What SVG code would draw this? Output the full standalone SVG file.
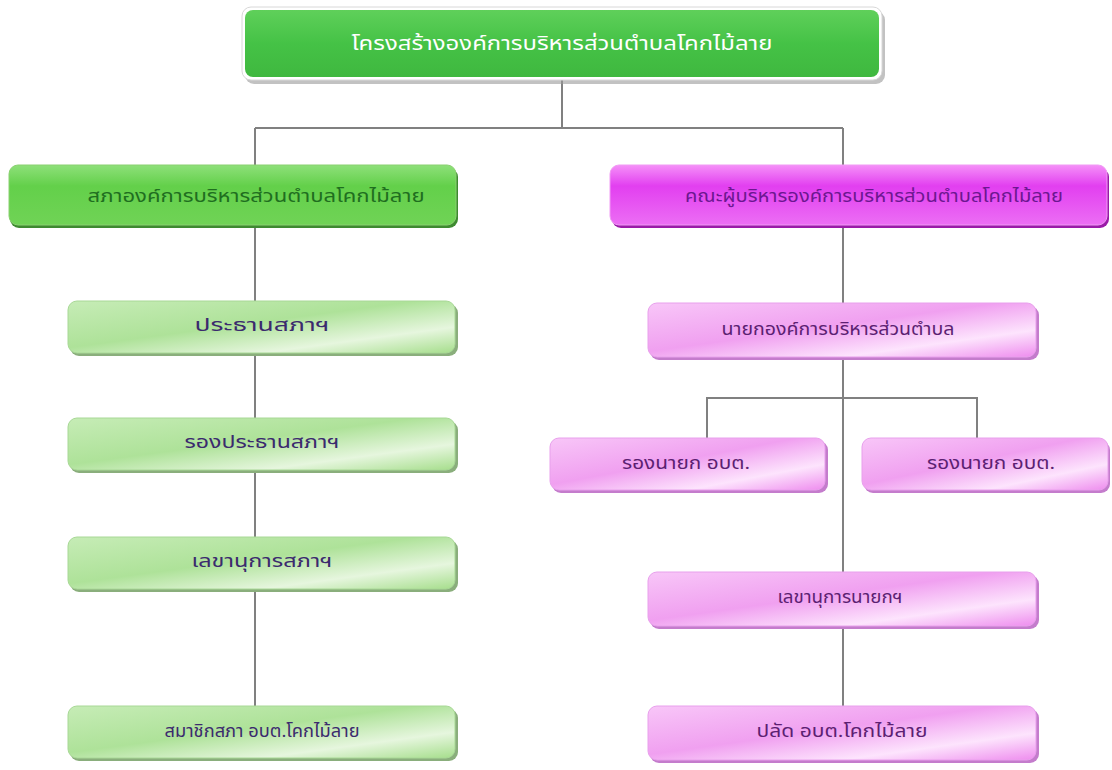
<svg xmlns="http://www.w3.org/2000/svg" width="1112" height="770" viewBox="0 0 1112 770">
<defs>
<linearGradient id="gTop" x1="0" y1="0" x2="0" y2="1"><stop offset="0" stop-color="#5fd05a"/><stop offset="0.5" stop-color="#45c246"/><stop offset="1" stop-color="#3fb83f"/></linearGradient>
<linearGradient id="gHeadL" x1="0" y1="0" x2="0" y2="1"><stop offset="0" stop-color="#8ee07a"/><stop offset="0.35" stop-color="#63d04a"/><stop offset="1" stop-color="#70d356"/></linearGradient>
<linearGradient id="gHeadR" x1="0" y1="0" x2="0" y2="1"><stop offset="0" stop-color="#f590f8"/><stop offset="0.35" stop-color="#e23ff0"/><stop offset="1" stop-color="#ec6ef4"/></linearGradient>
<linearGradient id="gLG" x1="0" y1="0" x2="1" y2="1"><stop offset="0" stop-color="#c6ecb6"/><stop offset="0.45" stop-color="#aee299"/><stop offset="0.75" stop-color="#e6f6de"/><stop offset="1" stop-color="#a6de8c"/></linearGradient>
<linearGradient id="gPK" x1="0" y1="0" x2="1" y2="1"><stop offset="0" stop-color="#f8c6f8"/><stop offset="0.45" stop-color="#f0a0f0"/><stop offset="0.75" stop-color="#fde4fd"/><stop offset="1" stop-color="#ee8cee"/></linearGradient>
</defs>
<style>
.conn{stroke:#808080;stroke-width:2;fill:none}
.shG{fill:#8aae7c}
.shGd{fill:#3e8a30}
.shP{fill:#c47ccc}
.shPd{fill:#9a1aa8}
.lg{fill:url(#gLG);stroke:#a8d896;stroke-width:1}
.pk{fill:url(#gPK);stroke:#e8a0ec;stroke-width:1}
text{font-family:"Noto Sans Thai","Noto Sans","Liberation Sans",sans-serif;text-anchor:middle;dominant-baseline:central}
.tTop{fill:#ffffff;font-size:20px}
.tHL{fill:#1f6e1f;font-size:18px}
.tHR{fill:#6c1790;font-size:18px}
.tC{fill:#3b2a6e;font-size:17px}
.tP{fill:#5c1f72;font-size:17px}
</style>
<g id="connectors">
<path class="conn" d="M562 80 V128 M255 128 H843 M255 128 V166 M843 128 V166"/>
<path class="conn" d="M255 226 V708"/>
<path class="conn" d="M843 226 V708"/>
<path class="conn" d="M707 438 V398 H977 V438"/>
</g>
<g id="top">
<rect x="245" y="11" width="640" height="73" rx="9" fill="#9a9a9a" opacity="0.6"/>
<rect x="242" y="7" width="640" height="73" rx="9" fill="#ffffff" stroke="#d8d8d8"/>
<rect x="245" y="10" width="634" height="67" rx="8" fill="url(#gTop)"/>
<text class="tTop" x="562" y="44" textLength="421" lengthAdjust="spacingAndGlyphs">โครงสร้างองค์การบริหารส่วนตำบลโคกไม้ลาย</text>
</g>
<g id="headL">
<rect x="10" y="168" width="448" height="60" rx="9" class="shGd"/>
<rect x="9" y="165" width="447" height="60" rx="9" fill="url(#gHeadL)" stroke="#8ad070"/>
<text class="tHL" x="256" y="196" textLength="337" lengthAdjust="spacingAndGlyphs">สภาองค์การบริหารส่วนตำบลโคกไม้ลาย</text>
</g>
<g id="headR">
<rect x="612" y="168" width="497" height="60" rx="9" class="shPd"/>
<rect x="610" y="165" width="497" height="60" rx="9" fill="url(#gHeadR)" stroke="#f09af4"/>
<text class="tHR" x="874" y="196" textLength="378" lengthAdjust="spacingAndGlyphs">คณะผู้บริหารองค์การบริหารส่วนตำบลโคกไม้ลาย</text>
</g>
<g id="n1">
<rect x="70" y="304" width="388" height="52" rx="9" class="shG"/>
<rect x="68" y="301" width="387" height="52" rx="9" class="lg"/>
<text class="tC" x="262" y="326" textLength="135" lengthAdjust="spacingAndGlyphs">ประธานสภาฯ</text>
</g>
<g id="n2">
<rect x="70" y="421" width="388" height="52" rx="9" class="shG"/>
<rect x="68" y="418" width="387" height="52" rx="9" class="lg"/>
<text class="tC" x="262" y="443" textLength="155" lengthAdjust="spacingAndGlyphs">รองประธานสภาฯ</text>
</g>
<g id="n3">
<rect x="70" y="540" width="388" height="52" rx="9" class="shG"/>
<rect x="68" y="537" width="387" height="52" rx="9" class="lg"/>
<text class="tC" x="262" y="562" textLength="141" lengthAdjust="spacingAndGlyphs">เลขานุการสภาฯ</text>
</g>
<g id="n4">
<rect x="70" y="709" width="388" height="52" rx="9" class="shG"/>
<rect x="68" y="706" width="387" height="52" rx="9" class="lg"/>
<text class="tC" x="262" y="732" textLength="195" lengthAdjust="spacingAndGlyphs">สมาชิกสภา อบต.โคกไม้ลาย</text>
</g>
<g id="m1">
<rect x="650" y="306" width="389" height="54" rx="9" class="shP"/>
<rect x="648" y="303" width="388" height="54" rx="9" class="pk"/>
<text class="tP" x="838" y="330" textLength="233" lengthAdjust="spacingAndGlyphs">นายกองค์การบริหารส่วนตำบล</text>
</g>
<g id="m2">
<rect x="552" y="441" width="276" height="52" rx="9" class="shP"/>
<rect x="550" y="438" width="275" height="52" rx="9" class="pk"/>
<text class="tP" x="686" y="464" textLength="128" lengthAdjust="spacingAndGlyphs">รองนายก อบต.</text>
</g>
<g id="m3">
<rect x="864" y="441" width="246" height="52" rx="9" class="shP"/>
<rect x="862" y="438" width="246" height="52" rx="9" class="pk"/>
<text class="tP" x="991" y="464" textLength="128" lengthAdjust="spacingAndGlyphs">รองนายก อบต.</text>
</g>
<g id="m4">
<rect x="650" y="575" width="389" height="54" rx="9" class="shP"/>
<rect x="648" y="572" width="388" height="54" rx="9" class="pk"/>
<text class="tP" x="840" y="598" textLength="125" lengthAdjust="spacingAndGlyphs">เลขานุการนายกฯ</text>
</g>
<g id="m5">
<rect x="650" y="709" width="389" height="54" rx="9" class="shP"/>
<rect x="648" y="706" width="388" height="54" rx="9" class="pk"/>
<text class="tP" x="842" y="732" textLength="171" lengthAdjust="spacingAndGlyphs">ปลัด อบต.โคกไม้ลาย</text>
</g>
</svg>
